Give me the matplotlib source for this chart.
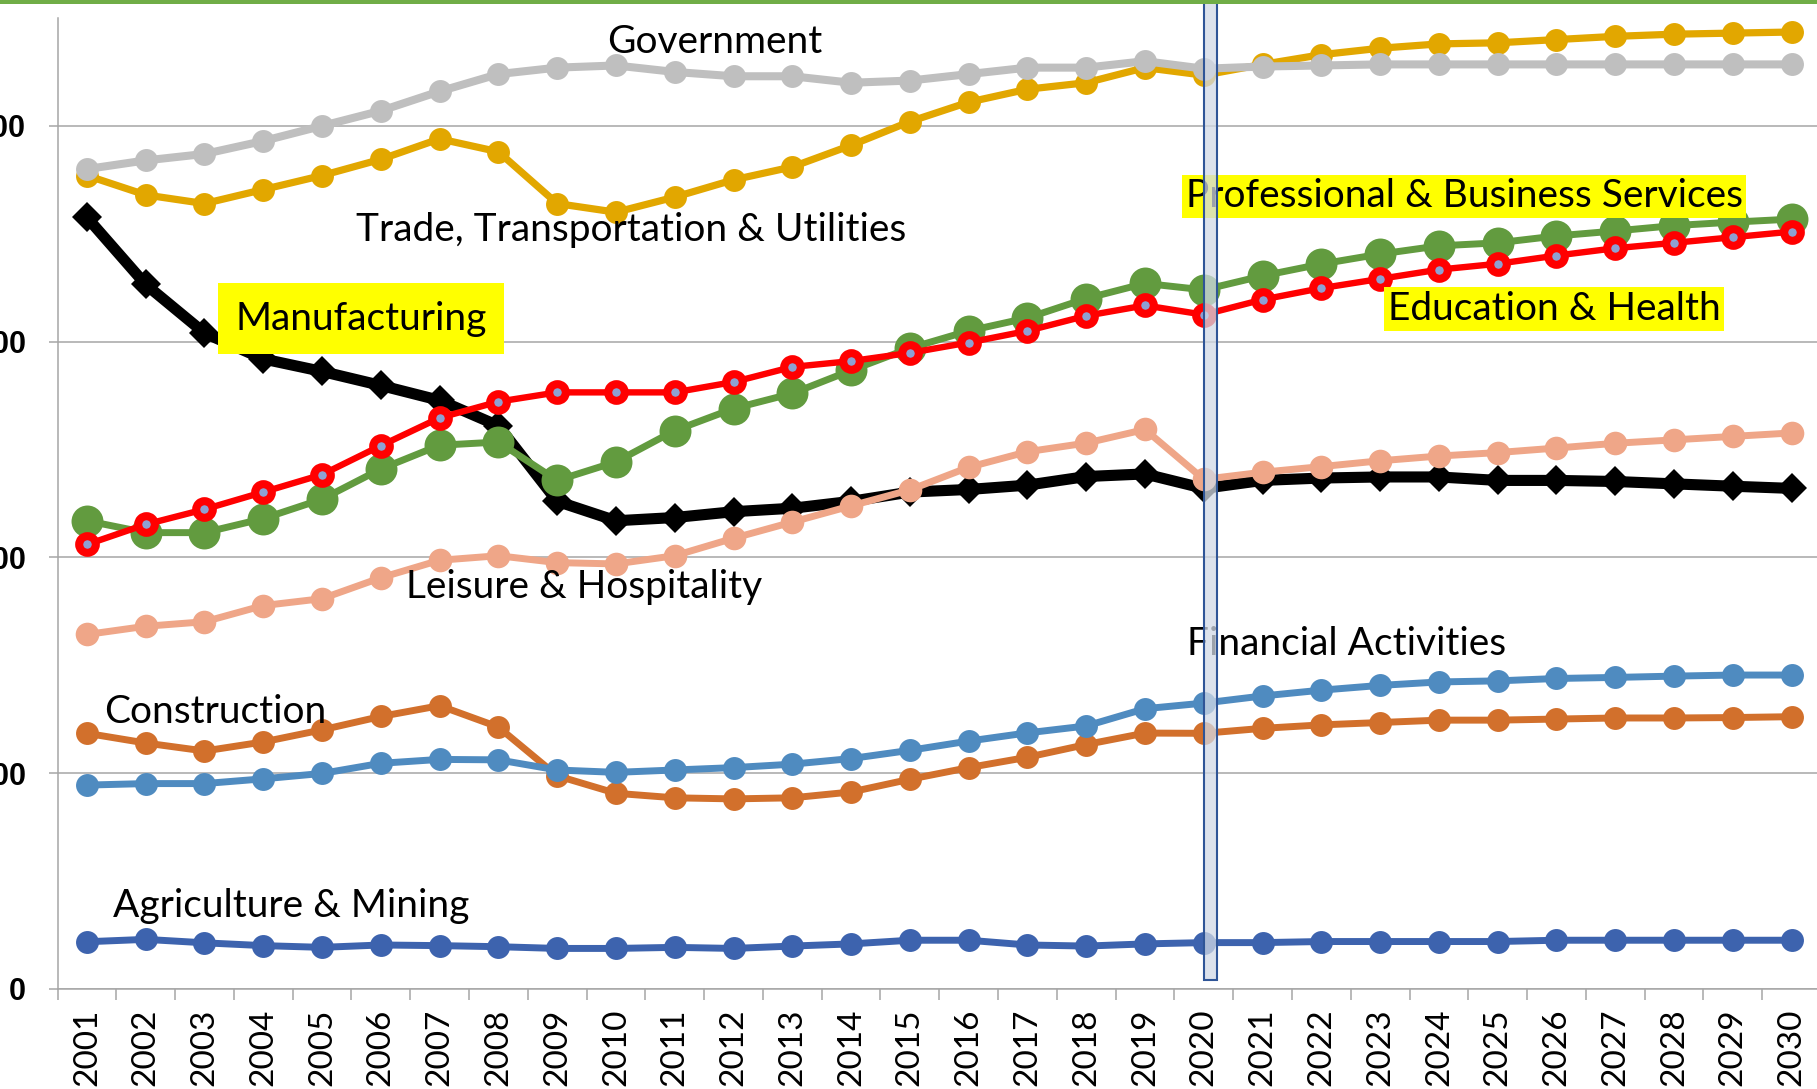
import numpy as np
import matplotlib
matplotlib.use("Agg")
import matplotlib.pyplot as plt
from matplotlib.patches import Rectangle

# ── data ──────────────────────────────────────────────────────────────
years = list(range(2001, 2031))

government = [380, 384, 387, 393, 400, 407, 416, 424, 427, 428, 425, 423, 423, 420, 421,
              424, 427, 427, 430, 426.5, 427.5, 428, 428.5, 428.5, 428.5, 428.5, 428.5, 428.5, 428.5, 428.5]
trade = [377, 368, 364, 370.5, 377, 384.5, 394, 388, 364, 360, 367, 375, 381, 391, 402,
         411, 417, 420, 427, 423.5, 428.5, 433, 436, 438, 438.5, 440, 441.5, 442.5, 443, 443.5]
manufacturing = [357.6, 326.5, 304, 292, 286.2, 279.7, 272.8, 261, 226, 217, 218.5, 221.2, 222.8, 226, 230.3,
                 231.5, 233.5, 237.5, 238.7, 232, 235.7, 236.8, 237.3, 237.3, 235.7, 235.7, 235.2, 234.1, 233, 232]
prof_business = [217, 211.5, 211.5, 218, 227, 241, 252, 253.5, 235.7, 244.3, 258.8, 269, 276, 286.7, 297,
                 305, 311, 320, 327, 324, 330.5, 336, 340.6, 344.4, 345.8, 349, 351.3, 353.8, 355.4, 356.8]
edu_health = [206, 215.3, 222.3, 230.3, 238.4, 251.8, 264.7, 272.2, 276.5, 276.5, 276.5, 281.3, 288.3, 291, 294.8,
              299.6, 305, 312, 316.8, 312.5, 319.5, 324.8, 329.1, 333.4, 336.1, 339.9, 343.3, 345.8, 348.4, 351]
leisure = [164.3, 168.1, 170.2, 177.7, 180.9, 190.6, 198.7, 200.8, 197.6, 197, 200.8, 208.9, 216.4, 223.9, 231.3,
           241.8, 249, 253, 259.3, 236.2, 239.5, 242.1, 244.8, 247, 248.6, 250.7, 252.9, 254.5, 256.1, 257.7]
financial = [94.5, 95.2, 95.2, 97.4, 99.9, 104.6, 106.4, 106.2, 101.5, 100.4, 101.5, 102.6, 104.2, 106.8, 110.6,
             114.9, 118.7, 121.9, 129.9, 132.5, 135.8, 138.5, 140.7, 142.3, 142.8, 143.9, 144.4, 145, 145.5, 145.5]
construction = [118.5, 114, 110.3, 114.5, 120.1, 126.3, 131.3, 121.4, 98.8, 90.7, 88.6, 88.1, 88.6, 91.3, 97.2,
                102.6, 107.4, 113.3, 118.6, 118.5, 120.8, 122.4, 123.5, 124.6, 124.6, 125.1, 125.6, 125.6, 125.8, 126.2]
agri_mining = [21.9, 23, 21.4, 20.1, 19.3, 20.4, 20.1, 19.6, 18.8, 18.8, 19.3, 18.8, 19.9, 20.9, 22.6,
               22.6, 20.4, 19.9, 20.9, 21.5, 21.5, 22, 22, 22, 22, 22.6, 22.6, 22.6, 22.6, 22.6]

y_ticks = [0, 100, 200, 300, 400]
y_tick_labels = ["0", "100", "200", "300", "400"]

# (series, colour, marker, marker size, line width, zorder) -- sizes in points at 100 dpi
series = [
    (manufacturing, "#000000", "D", 15.0, 8.0, 2.0),
    (prof_business, "#629B3F", "o", 23.0, 5.0, 2.5),
    (edu_health,    "#FF0000", "o", 12.0, 4.6, 3.0),
    (leisure,       "#EFA688", "o", 17.0, 5.0, 3.5),
    (trade,         "#E2A700", "o", 16.5, 5.2, 2.2),
    (government,    "#BFBFBF", "o", 16.5, 5.8, 2.4),
    (construction,  "#D2702C", "o", 16.5, 5.0, 2.2),
    (financial,     "#4F8BC0", "o", 16.5, 5.0, 2.4),
    (agri_mining,   "#3D63AE", "o", 16.5, 5.0, 2.4),
]

# (text, x, y baseline, yellow box pad or None)
labels = [
    ("Government", 2009.85, 434.0, None),
    ("Trade, Transportation & Utilities", 2005.58, 346.5, None),
    ("Manufacturing", 2003.52, 305.5, 0.45),
    ("Leisure & Hospitality", 2006.43, 181.1, None),
    ("Professional & Business Services", 2019.69, 362.2, 0.1),
    ("Education & Health", 2023.13, 309.9, 0.1),
    ("Financial Activities", 2019.71, 154.7, None),
    ("Construction", 2001.29, 123.2, None),
    ("Agriculture & Mining", 2001.44, 33.3, None),
]

GRID = "#A6A6A6"
W, H = 1817, 1089

fig = plt.figure(figsize=(W / 100, H / 100), dpi=100)
ax = fig.add_axes([57.5 / W, 100 / H, (1821 - 57.5) / W, 971 / H])

for vals, color, marker, ms, lw, z in series:
    if vals is edu_health:
        ax.plot(years, vals, color=color, lw=lw, marker=marker, ms=ms,
                mfc="#8EA0D2", mec=color, mew=5.8, zorder=z)
    else:
        ax.plot(years, vals, color=color, lw=lw, marker=marker, ms=ms,
                mfc=color, mec=color, mew=0, zorder=z)

ax.set_xlim(2000.5, 2030.5)
ax.set_ylim(0, 450)

# axes styling
for side in ("top", "right"):
    ax.spines[side].set_visible(False)
for side in ("left", "bottom"):
    ax.spines[side].set_color(GRID)
    ax.spines[side].set_linewidth(1.1)
ax.set_axisbelow(True)
ax.yaxis.grid(True, color=GRID, lw=1.1)

ax.set_yticks(y_ticks)
ax.set_yticklabels(y_tick_labels, fontfamily="Liberation Sans", fontweight="bold", fontsize=22)
ax.tick_params(axis="y", direction="out", length=6.8, width=1.1, color=GRID, pad=16)

ax.set_xticks(years)
ax.set_xticklabels([str(y) for y in years], rotation=90, fontfamily="Lato", fontsize=24)
ax.tick_params(axis="x", which="major", length=0, pad=14)
ax.set_xticks(np.arange(2000.5, 2031, 1.0), minor=True)
ax.tick_params(axis="x", which="minor", direction="out", length=8, width=1.1, color=GRID)

for text, x, y, pad in labels:
    kw = {}
    if pad is not None:
        kw["bbox"] = dict(boxstyle=f"square,pad={pad}", fc="#FFFF00", ec="none")
    ax.text(x, y, text, fontfamily="Lato", fontsize=28, ha="left", va="baseline",
            zorder=8, **kw)

# 2020 marker band
ax.add_patch(Rectangle((2020.0, 4), 0.23, 460, fc=(0.82, 0.85, 0.90, 0.75),
                       ec="#2F5597", lw=1.5, clip_on=False, zorder=10))

# green rule along the top edge
fig.add_artist(Rectangle((0, 1 - 3.5 / H), 1, 3.5 / H, transform=fig.transFigure,
                         fc="#70AD47", ec="none"))

fig.savefig("out.png", dpi=100)
